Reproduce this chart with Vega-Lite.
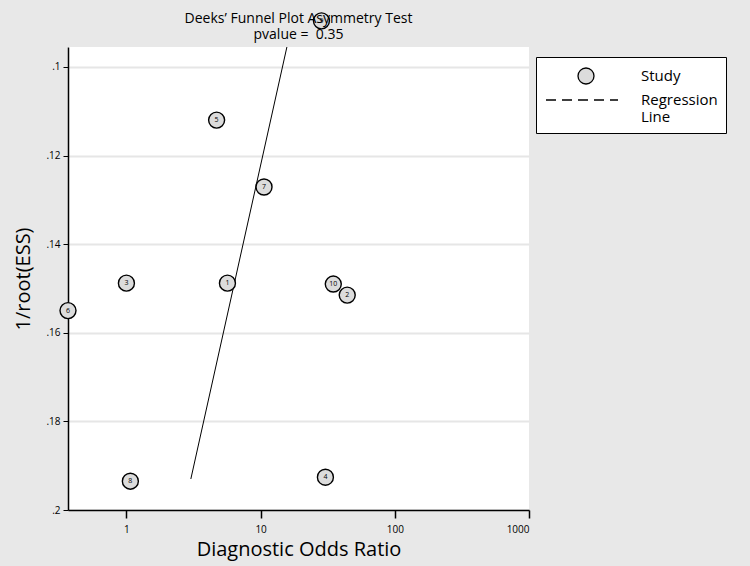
{
  "$schema": "https://vega.github.io/schema/vega-lite/v6.json",
  "autosize": {"type": "none"},
  "padding": {"left": 68, "top": 47, "right": 221, "bottom": 56},
  "width": 461,
  "height": 463,
  "background": "#e8e8e8",
  "view": {"fill": "white", "stroke": null},
  "config": {"font": "Open Sans"},
  "title": {
    "text": ["Deeks’ Funnel Plot Asymmetry Test", "pvalue = \u00a00.35"],
    "fontSize": 14,
    "fontWeight": "normal",
    "color": "black",
    "anchor": "middle",
    "frame": "group",
    "lineHeight": 16,
    "offset": 6,
    "dy": 38
  },
  "datasets": {
    "studies": [
      {"study": "1", "dor": 5.66, "iess": 0.1488, "series": "Study"},
      {"study": "2", "dor": 44.2, "iess": 0.1515, "series": "Study"},
      {"study": "3", "dor": 1.0, "iess": 0.1488, "series": "Study"},
      {"study": "4", "dor": 30.4, "iess": 0.1926, "series": "Study"},
      {"study": "5", "dor": 4.7, "iess": 0.112, "series": "Study"},
      {"study": "6", "dor": 0.367, "iess": 0.155, "series": "Study"},
      {"study": "7", "dor": 10.6, "iess": 0.1271, "series": "Study"},
      {"study": "8", "dor": 1.07, "iess": 0.1935, "series": "Study"},
      {"study": "9", "dor": 28.4, "iess": 0.0896, "series": "Study"},
      {"study": "10", "dor": 34.8, "iess": 0.149, "series": "Study"}
    ],
    "regression": [
      {"dor": 3.02, "iess": 0.193},
      {"dor": 15.7, "iess": 0.0955}
    ]
  },
  "layer": [
    {
      "data": {"name": "regression"},
      "mark": {"type": "line", "color": "black", "strokeWidth": 1, "clip": false},
      "encoding": {
        "x": {"field": "dor", "type": "quantitative"},
        "y": {"field": "iess", "type": "quantitative"}
      }
    },
    {
      "data": {"name": "studies"},
      "mark": {"type": "point", "filled": true, "fill": "#dcdcdc", "strokeWidth": 1.4, "opacity": 1, "size": 400, "clip": false},
      "encoding": {
        "x": {
          "field": "dor", "type": "quantitative",
          "scale": {"type": "log", "domain": [0.367, 1000], "nice": false},
          "axis": {
            "title": "Diagnostic Odds Ratio",
            "values": [1, 10, 100, 1000],
            "format": "d",
            "grid": false,
            "domainColor": "black", "domainWidth": 1.5,
            "tickColor": "black", "tickWidth": 1.5, "tickSize": 8,
            "labelFontSize": 10, "labelColor": "black", "labelPadding": 6,
            "titleFontSize": 20, "titleFontWeight": "normal", "titleColor": "black", "titlePadding": 5
          }
        },
        "y": {
          "field": "iess", "type": "quantitative",
          "scale": {"domain": [0.0955, 0.2], "reverse": true, "nice": false, "zero": false},
          "axis": {
            "title": "1/root(ESS)",
            "values": [0.1, 0.12, 0.14, 0.16, 0.18, 0.2],
            "labelExpr": "slice(format(datum.value, '.2~f'), 1)",
            "grid": true, "gridColor": "#e6e6e6", "gridWidth": 2,
            "domainColor": "black", "domainWidth": 1.5,
            "tickColor": "black", "tickWidth": 1, "tickSize": 5,
            "labelFontSize": 10, "labelColor": "black", "labelPadding": 3,
            "titleFontSize": 20, "titleFontWeight": "normal", "titleColor": "black", "titlePadding": 12
          }
        },
        "stroke": {
          "field": "series", "type": "nominal",
          "scale": {"domain": ["Study", "Regression Line"], "range": ["black", "black"]}
        },
        "shape": {
          "field": "series", "type": "nominal",
          "scale": {
            "domain": ["Study", "Regression Line"],
            "range": [
              "M0.8,0A0.8,0.8 0 1,1 -0.8,0A0.8,0.8 0 1,1 0.8,0Z",
              "M-4,0H-3M-2.4,0H-1.4M-0.8,0H0.2M0.8,0H1.8M2.4,0H3.2"
            ]
          },
          "legend": {
            "title": null,
            "orient": "none",
            "legendX": 468,
            "legendY": 10,
            "padding": 8,
            "strokeColor": "black",
            "fillColor": "white",
            "symbolSize": 400,
            "symbolOffset": 31,
            "symbolStrokeWidth": 1.3,
            "symbolFillColor": "#dcdcdc",
            "labelFontSize": 15,
            "labelColor": "black",
            "labelOffset": 44,
            "rowPadding": 2,
            "labelExpr": "datum.label == 'Regression Line' ? ['Regression', 'Line'] : datum.label"
          }
        }
      }
    },
    {
      "data": {"name": "studies"},
      "mark": {"type": "text", "fontSize": 7, "color": "black", "clip": false},
      "encoding": {
        "x": {"field": "dor", "type": "quantitative"},
        "y": {"field": "iess", "type": "quantitative"},
        "text": {"field": "study"}
      }
    }
  ]
}
